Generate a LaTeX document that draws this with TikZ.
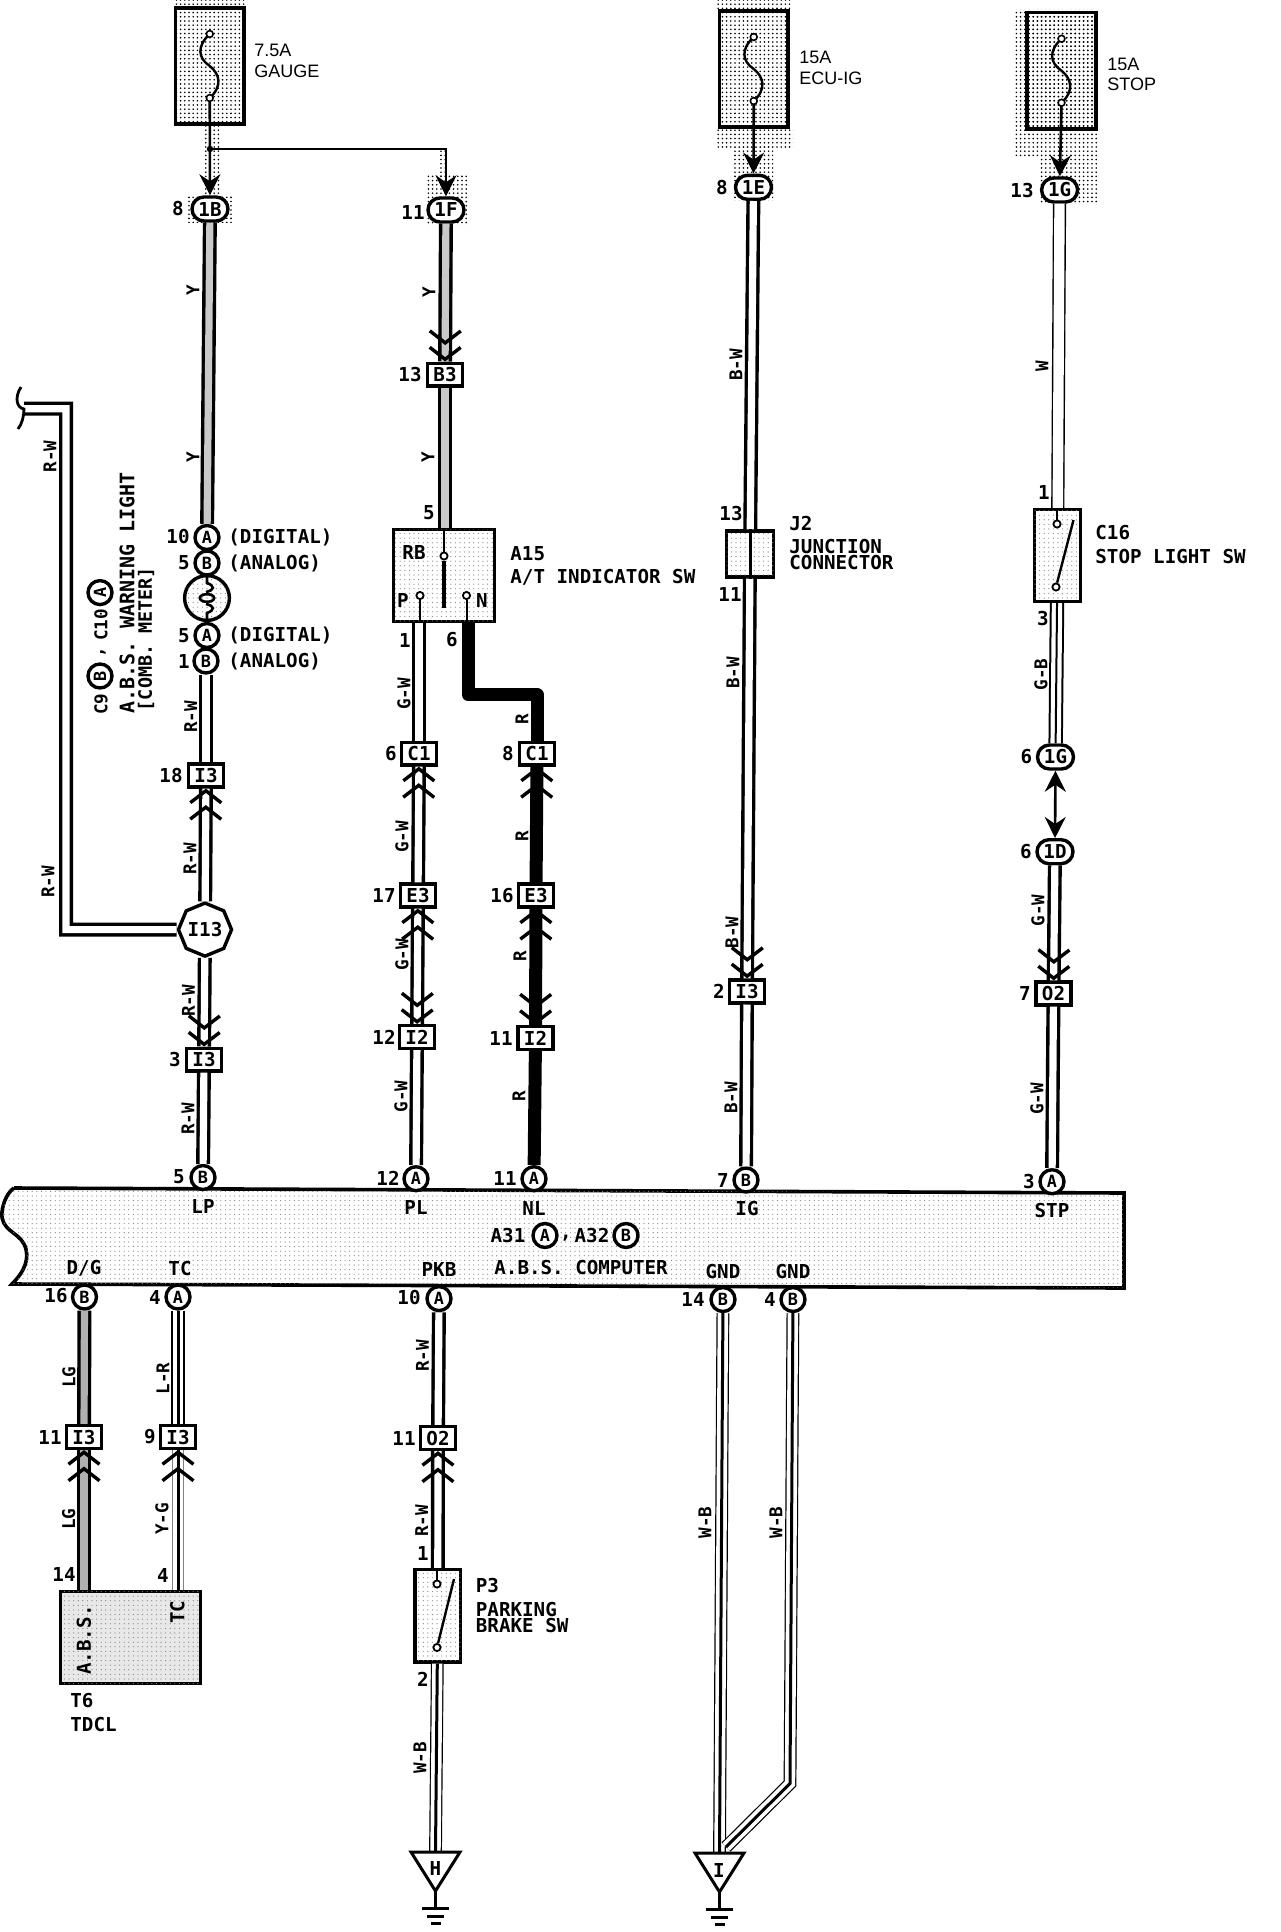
\documentclass[tikz,border=0pt]{standalone}
\usepackage{fontspec}
\setmainfont{DejaVu Sans Mono}
\newfontfamily\fusefont{Liberation Sans}
\usetikzlibrary{arrows.meta,patterns.meta,shapes.geometric,shapes.misc}

\tikzset{
	txt/.style={inner sep=0pt,font=\fontsize{9.6}{10}\selectfont\bfseries},
	wiretag/.style={inner sep=0pt,rotate=90,font=\fontsize{8.8}{10}\selectfont\bfseries},
	fusetag/.style={inner sep=0pt,anchor=west,font=\fontsize{9}{10}\selectfont\fusefont},
	halo/.style={pattern={Dots[radius=.45pt,distance=2.1pt]},pattern color=black},
	speck/.style={pattern={Dots[radius=.3pt,distance=2.3pt]},pattern color=gray},
	fuse/.style={draw,line width=1.8pt,halo,minimum width=34.4pt,minimum height=58.2pt,inner sep=0pt},
	plug/.style={txt,draw,line width=1.7pt,fill=white,rounded rectangle,minimum width=18pt,minimum height=12pt},
	joint/.style={txt,draw,line width=1.7pt,fill=white,minimum width=17.4pt,minimum height=11.4pt},
	term/.style={txt,draw,line width=1.7pt,fill=white,circle,minimum size=12pt,font=\fontsize{8.4}{9}\selectfont\bfseries},
	swbox/.style={draw,line width=1.7pt,fill=white,postaction={speck},inner sep=0pt},
	contact/.style={circle,draw,fill=white,line width=.9pt,minimum size=3.6pt,inner sep=0pt},
	wire/.style={line width=1.7pt,double=white,double distance=3.6pt},
	wireyel/.style={line width=1.7pt,double=gray!42,double distance=3.6pt},
	wirelg/.style={line width=1.7pt,double=gray!62,double distance=3.6pt},
	wirered/.style={line width=6.5pt},
	wirewht/.style={line width=.7pt,double=white,double distance=5.2pt},
	wiretri/.style={line width=.6pt,double=white,double distance=5.2pt},
	wirecore/.style={line width=1.5pt},
	feed/.style={line width=1.3pt,-{Stealth[length=10.5pt,width=10.5pt,inset=3.5pt]},shorten <=1.7pt},
	chev/.style={tips=true,-{Straight Barb[length=6pt,width=15.5pt,line width=1.7pt,sep=.3pt] Straight Barb[length=6pt,width=15.5pt,line width=1.7pt]}},
	fusecurve/.pic={
		\draw[line width=1.2pt] (0,-32) .. controls (-13,-20) and (-12,-8) .. (0,0) .. controls (10,8) and (13,20) .. (0,32);
		\filldraw[fill=white,line width=.8pt] (0,-32) circle (1.7pt) (0,32) circle (1.7pt);
		\coordinate (-bot) at (0,32);
	},
	gndsym/.pic={
		\draw[line width=1.5pt,line join=miter,fill=white] (-24.5,0) -- (24.5,0) -- (0,39) -- cycle;
		\draw[line width=1.3pt] (0,39) -- (0,56);
		\draw[line width=1.5pt] (-13.5,56) -- (13.5,56) (-8.5,64) -- (8.5,64) (-5,71) -- (5,71);
	}
}

\begin{document}
\begin{tikzpicture}[x=.5pt,y=-.5pt]
	\useasboundingbox (0,0) rectangle (1280,1932);

	% Stipple round the fuses
	\fill[halo] (173,0) rectangle (246,6);
	\fill[halo] (203,126) rectangle (220,194);
	\fill[halo] (188,194) rectangle (233,222);
	\fill[halo] (440,149) rectangle (447,175);
	\fill[halo] (426,175) rectangle (467,225);
	\fill[halo] (717,0) rectangle (790,9);
	\fill[halo] (717,130) rectangle (793,147);
	\fill[halo] (733,147) rectangle (773,200);
	\fill[halo] (1013,10) rectangle (1097,156);
	\fill[halo] (1040,156) rectangle (1097,204);

	% Computer bar
	\filldraw[fill=white,postaction={speck},line width=1.8pt] (14,1188) -- (1124,1193) -- (1124,1288) -- (12,1284)
		.. controls (24,1272) and (31,1258) .. (24,1244) .. controls (18,1232) and (0,1230) .. (2,1212)
		.. controls (3,1202) and (8,1192) .. (14,1188);

	% Fuses
	\node[fuse] (fusea) at (209.75,66) {};
	\node[fuse] (fuseb) at (753.75,69) {};
	\node[fuse] (fusec) at (1061.5,70.75) {};
	\pic (fca) at (fusea) {fusecurve};
	\pic (fcb) at (fuseb) {fusecurve};
	\pic (fcc) at (fusec) {fusecurve};
	\node[fusetag] (tagaa) at (254,50.5) {7.5A};
	\node[fusetag] (tagab) at (254,71) {GAUGE};
	\node[fusetag] (tagba) at (799,57) {15A};
	\node[fusetag] (tagbb) at (799,78) {ECU-IG};
	\node[fusetag] (tagca) at (1107,64) {15A};
	\node[fusetag] (tagcb) at (1107,84) {STOP};

	% Plugs and joints, first column
	\node[plug] (plugb) at (210,209) {1B};
	\node[term] (termaa) at (207,537.5) {A};
	\node[term] (termab) at (207,563) {B};
	\node[term] (termac) at (207,635.5) {A};
	\node[term] (termad) at (206,661) {B};
	\node[circle,draw,line width=1.7pt,fill=white,postaction={speck},minimum size=22.4pt,inner sep=0pt] (meter) at (207,598) {};
	\node[joint] (boxia) at (206,775.5) {I3};
	\node[regular polygon,regular polygon sides=8,shape border rotate=22.5,draw,line width=1.7pt,fill=white,minimum size=24.6pt,inner sep=0pt,txt] (boxih) at (205,929.6) {I13};
	\node[joint] (boxib) at (204,1059.6) {I3};
	\node[term] (termlp) at (203,1177.5) {B};

	% Second and third columns
	\node[plug] (plugf) at (446,210) {1F};
	\node[joint] (boxbc) at (445,374.6) {B3};
	\node[swbox,minimum width=50.4pt,minimum height=45.9pt] (swa) at (444,575.5) {};
	\node[joint] (boxca) at (419,753.6) {C1};
	\node[joint] (boxcb) at (537,753.6) {C1};
	\node[joint] (boxea) at (418,895.5) {E3};
	\node[joint] (boxeb) at (536,895.5) {E3};
	\node[joint] (boxja) at (417,1037) {I2};
	\node[joint] (boxjb) at (535.5,1038) {I2};
	\node[term] (termpl) at (416,1178.7) {A};
	\node[term] (termnl) at (534,1178.7) {A};

	% Fourth and fifth columns
	\node[plug] (pluge) at (753.5,187.3) {1E};
	\node[swbox,minimum width=23.4pt,minimum height=22.9pt] (jcn) at (750,554) {};
	\node[joint] (boxic) at (747,991.4) {I3};
	\node[term] (termig) at (746,1180) {B};
	\node[plug] (plugg) at (1059.6,190) {1G};
	\node[swbox,minimum width=22.9pt,minimum height=45.9pt] (swc) at (1057.5,555.5) {};
	\node[plug] (plugh) at (1055.5,757) {1G};
	\node[plug] (plugd) at (1055,851.7) {1D};
	\node[joint] (boxoa) at (1053.5,993.5) {O2};
	\node[term] (termst) at (1052,1181.7) {A};

	% Below the bar
	\node[term] (termdg) at (84.5,1297) {B};
	\node[term] (termtc) at (178,1297) {A};
	\node[term] (termpk) at (439,1298.6) {A};
	\node[term] (termga) at (723,1299.5) {B};
	\node[term] (termgb) at (793,1299.5) {B};
	\node[joint] (boxka) at (84,1437) {I3};
	\node[joint] (boxkb) at (178,1437) {I3};
	\node[joint] (boxob) at (438,1438) {O2};
	\node[swbox,fill=gray!18,minimum width=69.9pt,minimum height=45.9pt] (tdcl) at (130.5,1637.5) {};
	\node[swbox,minimum width=22.7pt,minimum height=46.2pt] (swb) at (437.75,1615.75) {};
	\coordinate (gndh) at (435.5,1852);
	\coordinate (gndi) at (719.5,1853);
	\coordinate (gndbend) at (790,1783.5);
	\coordinate (gndend) at (726,1847);

	% Free ends of the wires
	\coordinate (juna) at (210,149);
	\coordinate (brka) at (66,929.6);
	\coordinate (brkb) at (66,408.7);
	\coordinate (brkc) at (24,408.7);
	\coordinate (swap) at (419,623);
	\coordinate (swan) at (468,623);
	\coordinate (bnda) at (468,694.7);
	\coordinate (bndb) at (537,694.7);

	% Fuse feeds
	\draw[feed] (fca-bot) -- (plugb);
	\draw[feed] (juna) -| (plugf);
	\fill (juna) circle (1.6pt);
	\draw[feed] (fcb-bot) -- (pluge);
	\draw[feed] (fcc-bot) -- (plugg);
	\draw[line width=1.3pt,{Stealth[length=10.5pt,width=10.5pt,inset=3.5pt]}-{Stealth[length=10.5pt,width=10.5pt,inset=3.5pt]}] (plugh) -- (plugd);

	% First column wires
	\draw[wireyel] (plugb) -- (termaa);
	\draw[wire] (termad) -- (boxia);
	\draw[wire] (boxih) -- (boxia);
	\draw[wire] (boxih) -- (boxib);
	\draw[wire] (boxib) -- (termlp);
	\draw[wire] (boxih) -- (brka) -- (brkb) -- (brkc);
	\draw[line width=1.4pt] (21,387) .. controls (14,398) and (17,408) .. (24,409) .. controls (24,416) and (22,424) .. (18,429);
	\path[chev] (boxih) -- (boxia);
	\path[chev] (boxih) -- (boxib);

	% Second column wires
	\draw[wireyel] (plugf) -- (boxbc);
	\draw[wireyel] (boxbc) -- (boxbc |- swa.north);
	\draw[wire] (swap) -- (boxca);
	\draw[wire] (boxea) -- (boxca);
	\draw[wire] (boxja) -- (boxea);
	\draw[wire] (boxja) -- (termpl);
	\path[chev] (plugf) -- (boxbc);
	\path[chev] (boxea) -- (boxca);
	\path[chev] (boxja) -- (boxea);
	\path[chev] (boxea) -- (boxja);

	% Third column wires
	\draw[wirered,line join=round] (swan) -- (bnda) -- (bndb) -- (boxcb);
	\draw[wirered] (boxeb) -- (boxcb);
	\draw[wirered] (boxjb) -- (boxeb);
	\draw[wirered] (boxjb) -- (termnl);
	\path[chev] (boxeb) -- (boxcb);
	\path[chev] (boxjb) -- (boxeb);
	\path[chev] (boxeb) -- (boxjb);

	% Fourth column wires
	\draw[wire] (pluge) -- (jcn);
	\draw[wire] (jcn) -- (boxic);
	\draw[wire] (boxic) -- (termig);
	\path[chev] (jcn) -- (boxic);

	% Fifth column wires
	\draw[wirewht] (plugg) -- (swc);
	\draw[wiretri,line width=1pt] (swc) -- (plugh);
	\draw[line width=1pt] (swc) -- (plugh);
	\draw[wire] (plugd) -- (boxoa);
	\draw[wire] (boxoa) -- (termst);
	\path[chev] (plugd) -- (boxoa);

	% Wires below the bar
	\draw[wirelg] (termdg) -- (boxka);
	\draw[wirelg] (boxka) -- (boxka |- tdcl.north);
	\path[chev] (boxka |- tdcl.north) -- (boxka);
	\draw[wiretri,line width=1pt] (termtc) -- (boxkb);
	\draw[wirecore] (termtc) -- (boxkb);
	\draw[wiretri,double=white,draw=gray] (boxkb) -- (boxkb |- tdcl.north);
	\draw[wirecore] (boxkb) -- (boxkb |- tdcl.north);
	\path[chev] (boxkb |- tdcl.north) -- (boxkb);
	\draw[wire] (termpk) -- (boxob);
	\draw[wire] (swb) -- (boxob);
	\path[chev] (swb) -- (boxob);
	\draw[wiretri] (swb) -- (gndh);
	\draw[wirecore] (swb) -- (gndh);
	\draw[wiretri] (termga) -- (gndi);
	\draw[wirecore] (termga) -- (gndi);
	\draw[wiretri] (termgb) -- (gndbend) -- (gndend);
	\draw[wirecore] (termgb) -- (gndbend) -- (gndend);
	\pic at (gndh) {gndsym};
	\pic at (gndi) {gndsym};
	\node[txt] (gndtxth) at (435.5,1868.5) {H};
	\node[txt] (gndtxti) at (719,1870) {I};

	% Inside the meter
	\draw[line width=1.3pt] (meter.north) -- (207,583) .. controls (215,586) and (215,590) .. (206,592);
	\draw[line width=1.3pt] (meter.south) -- (207,613) .. controls (215,610) and (215,606) .. (206,604);
	\draw[line width=1.3pt] (207,598) ellipse (3.6pt and 1.9pt);

	% Inside the switches
	\node[contact] (ctrb) at (444,556) {};
	\node[contact] (ctp) at (420,595.5) {};
	\node[contact] (ctn) at (466.5,595.5) {};
	\draw[line width=1pt] (swa.north) -- (ctrb);
	\draw[line width=1.8pt] (ctrb) -- (444,608);
	\draw[line width=1pt] (ctp) -- (ctp |- swa.south);
	\draw[line width=1pt] (ctn) -- (ctn |- swa.south);
	\draw[line width=1.5pt] (jcn.north) -- (jcn.south);
	\node[contact] (ctca) at (1057,524) {};
	\node[contact] (ctcb) at (1056,587) {};
	\draw[line width=1pt] (swc.north -| ctca) -- (ctca);
	\draw[line width=1.2pt] (ctcb) -- (1073.5,520);
	\node[contact] (ctba) at (437,1584) {};
	\node[contact] (ctbb) at (437,1647.5) {};
	\draw[line width=1pt] (swb.north -| ctba) -- (ctba);
	\draw[line width=1.2pt] (ctbb) -- (454,1579);

	% Pin numbers
	\node[txt] (numa) at (178,209) {8};
	\node[txt] (numb) at (413,212) {11};
	\node[txt] (numc) at (178,537) {10};
	\node[txt] (numd) at (184,563) {5};
	\node[txt] (nume) at (184,635.5) {5};
	\node[txt] (numf) at (184,661) {1};
	\node[txt] (numg) at (171,775.5) {18};
	\node[txt] (numh) at (175,1059.6) {3};
	\node[txt] (numi) at (179,1176.6) {5};
	\node[txt] (numj) at (410,374.6) {13};
	\node[txt] (numk) at (429,512.6) {5};
	\node[txt] (numl) at (405,640) {1};
	\node[txt] (numm) at (452,640) {6};
	\node[txt] (numn) at (391,753.6) {6};
	\node[txt] (numo) at (508,753.6) {8};
	\node[txt] (nump) at (384,895) {17};
	\node[txt] (numq) at (502,895.5) {16};
	\node[txt] (numr) at (384,1037) {12};
	\node[txt] (nums) at (501,1038) {11};
	\node[txt] (numt) at (388,1178.7) {12};
	\node[txt] (numu) at (505,1178.7) {11};
	\node[txt] (numv) at (722,187.3) {8};
	\node[txt] (numw) at (731,514) {13};
	\node[txt] (numx) at (730,594) {11};
	\node[txt] (numy) at (719,991.4) {2};
	\node[txt] (numz) at (723,1180) {7};
	\node[txt] (numaa) at (1022,190.6) {13};
	\node[txt] (numab) at (1044,492.4) {1};
	\node[txt] (numac) at (1043,618.7) {3};
	\node[txt] (numad) at (1026.5,757) {6};
	\node[txt] (numae) at (1026,851.7) {6};
	\node[txt] (numaf) at (1025,993.5) {7};
	\node[txt] (numag) at (1029,1181.7) {3};
	\node[txt] (numah) at (56,1296) {16};
	\node[txt] (numai) at (155,1297) {4};
	\node[txt] (numaj) at (409,1297) {10};
	\node[txt] (numak) at (693,1299.5) {14};
	\node[txt] (numal) at (770,1299.5) {4};
	\node[txt] (numam) at (50,1437) {11};
	\node[txt] (numan) at (150,1437) {9};
	\node[txt] (numao) at (404,1438) {11};
	\node[txt] (numap) at (64,1574) {14};
	\node[txt] (numaq) at (163,1575) {4};
	\node[txt] (numar) at (423,1553) {1};
	\node[txt] (numas) at (423,1679) {2};

	% Wire colours
	\node[wiretag] (wcaa) at (193,290) {Y};
	\node[wiretag] (wcab) at (193,457) {Y};
	\node[wiretag] (wcac) at (190.6,717) {R-W};
	\node[wiretag] (wcad) at (190,859) {R-W};
	\node[wiretag] (wcae) at (188.5,1001) {R-W};
	\node[wiretag] (wcaf) at (188,1119) {R-W};
	\node[wiretag] (wcag) at (50,456.6) {R-W};
	\node[wiretag] (wcah) at (48,882) {R-W};
	\node[wiretag] (wcba) at (429,292) {Y};
	\node[wiretag] (wcbb) at (428,457) {Y};
	\node[wiretag] (wcbc) at (404,694) {G-W};
	\node[wiretag] (wcbd) at (402,837) {G-W};
	\node[wiretag] (wcbe) at (402,955) {G-W};
	\node[wiretag] (wcbf) at (401,1096.6) {G-W};
	\node[wiretag] (wcca) at (522,718.7) {R};
	\node[wiretag] (wccb) at (522,836.5) {R};
	\node[wiretag] (wccc) at (520,955.7) {R};
	\node[wiretag] (wccd) at (519,1096.6) {R};
	\node[wiretag] (wcda) at (736,365) {B-W};
	\node[wiretag] (wcdb) at (733,673) {B-W};
	\node[wiretag] (wcdc) at (732,932.5) {B-W};
	\node[wiretag] (wcdd) at (731,1098) {B-W};
	\node[wiretag] (wcea) at (1042,366) {W};
	\node[wiretag] (wceb) at (1041,674.5) {G-B};
	\node[wiretag] (wcec) at (1038,910.6) {G-W};
	\node[wiretag] (wced) at (1037,1098.8) {G-W};
	\node[wiretag] (wcfa) at (69,1377) {LG};
	\node[wiretag] (wcfb) at (68.6,1519) {LG};
	\node[wiretag] (wcfc) at (163,1378.6) {L-R};
	\node[wiretag] (wcfd) at (162,1519) {Y-G};
	\node[wiretag] (wcfe) at (422.5,1356) {R-W};
	\node[wiretag] (wcff) at (421.6,1521) {R-W};
	\node[wiretag] (wcfg) at (420,1758) {W-B};
	\node[wiretag] (wcfh) at (705,1522.5) {W-B};
	\node[wiretag] (wcfi) at (776,1522.5) {W-B};

	% Part names
	\node[txt,anchor=west] (nma) at (228,537) {(DIGITAL)};
	\node[txt,anchor=west] (nmb) at (228,563) {(ANALOG)};
	\node[txt,anchor=west] (nmc) at (228,635.5) {(DIGITAL)};
	\node[txt,anchor=west] (nmd) at (228,661) {(ANALOG)};
	\node[txt,anchor=west] (nme) at (510,553.5) {A15};
	\node[txt,anchor=west] (nmf) at (510,577.5) {A/T INDICATOR SW};
	\node[txt] (nmg) at (414,552.6) {RB};
	\node[txt] (nmh) at (403,600) {P};
	\node[txt] (nmi) at (482,600) {N};
	\node[txt,anchor=west] (nmj) at (789,524) {J2};
	\node[txt,anchor=west] (nmk) at (789,547) {JUNCTION};
	\node[txt,anchor=west] (nml) at (789,563) {CONNECTOR};
	\node[txt,anchor=west] (nmm) at (1095,533) {C16};
	\node[txt,anchor=west] (nmn) at (1095,556.4) {STOP LIGHT SW};
	\node[txt,anchor=west] (nmo) at (475.5,1585) {P3};
	\node[txt,anchor=west] (nmp) at (475.5,1609) {PARKING};
	\node[txt,anchor=west] (nmq) at (475.5,1625) {BRAKE SW};
	\node[txt,anchor=west] (nmr) at (70,1701) {T6};
	\node[txt,anchor=west] (nms) at (70,1724.5) {TDCL};
	\node[txt,rotate=90] (nmt) at (84,1640) {A.B.S.};
	\node[txt,rotate=90] (nmu) at (177.5,1612) {TC};

	% Warning light name
	\node[wiretag] (wlaa) at (101,704) {C9};
	\node[term,rotate=90] (wlab) at (100,676) {B};
	\node[wiretag] (wlac) at (103,652) {,};
	\node[wiretag] (wlad) at (101,625) {C10};
	\node[term,rotate=90] (wlae) at (100,592.6) {A};
	\node[wiretag,anchor=west,font=\fontsize{10}{11}\selectfont\bfseries] (wlaf) at (127,713.6) {A.B.S. WARNING LIGHT};
	\node[wiretag,anchor=west,font=\fontsize{9.2}{10}\selectfont\bfseries] (wlag) at (146,711.5) {[COMB. METER]};

	% Names on the bar
	\node[txt] (cpa) at (203,1206) {LP};
	\node[txt] (cpb) at (416,1207) {PL};
	\node[txt] (cpc) at (534,1208) {NL};
	\node[txt] (cpd) at (747,1208) {IG};
	\node[txt] (cpe) at (1052,1210) {STP};
	\node[txt] (cpf) at (84,1268) {D/G};
	\node[txt] (cpg) at (180,1268) {TC};
	\node[txt] (cph) at (439,1269) {PKB};
	\node[txt] (cpi) at (723,1271) {GND};
	\node[txt] (cpj) at (793,1271) {GND};
	\node[txt] (cpk) at (508,1235.5) {A31};
	\node[term] (cpl) at (545,1235.5) {A};
	\node[txt] (cpm) at (566,1238) {,};
	\node[txt] (cpn) at (592,1235.5) {A32};
	\node[term] (cpo) at (626,1235.5) {B};
	\node[txt,anchor=west] (cpp) at (494,1267) {A.B.S. COMPUTER};
\end{tikzpicture}
\end{document}
